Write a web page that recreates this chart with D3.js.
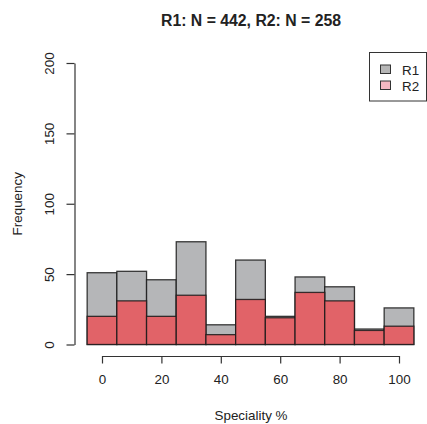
<!DOCTYPE html>
<html>
<head>
<meta charset="utf-8">
<title>Speciality histogram</title>
<script src="https://cdn.jsdelivr.net/npm/d3@7/dist/d3.min.js"></script>
<style>
body { margin: 0; background: #fff; }
text { font-family: "Liberation Sans", Arial, sans-serif; fill: #222; }
</style>
</head>
<body>
<script>

// bin edges (bins of width 10 centred on 0, 10, ..., 100)
var binStarts = [-5, 5, 15, 25, 35, 45, 55, 65, 75, 85, 95];
var binWidth = 10;

// counts
var r1Counts = [51, 52, 46, 73, 14, 60, 20, 48, 41, 11, 26];
var r2Counts = [20, 31, 20, 35, 7, 32, 19, 37, 31, 10, 13];

var xTicks = [0, 20, 40, 60, 80, 100];
var yTicks = [0, 50, 100, 150, 200];

var legendLabels = ["R1", "R2"];
var titleText = "R1: N = 442, R2: N = 258";

var width = 427, height = 424;

var svg = d3.select("body").append("svg")
    .attr("width", width)
    .attr("height", height);

var x = d3.scaleLinear().domain([0, 100]).range([102, 399]);
var y = d3.scaleLinear().domain([0, 200]).range([344.5, 63]);

var barFill = ["#b5b6b8", "#e16368"];
var legendFill = ["#b6b6b6", "#f5b7c1"];

var series = [r1Counts, r2Counts];

// bars, R1 first then R2 on top
series.forEach(function(counts, k){
  svg.append("g").selectAll("rect")
    .data(counts)
    .enter()
    .append("rect")
    .attr("x", function(d, i){ return x(binStarts[i]); })
    .attr("width", function(d, i){ return x(binStarts[i] + binWidth) - x(binStarts[i]); })
    .attr("y", function(d){ return y(d); })
    .attr("height", function(d){ return y(0) - y(d); })
    .attr("fill", barFill[k])
    .attr("stroke", "#1a1a1a")
    .attr("stroke-opacity", 0.85)
    .attr("stroke-width", 1.3);
});

// x axis
var xAxis = svg.append("g")
    .attr("transform", "translate(0,356)")
    .call(d3.axisBottom(x).tickValues(xTicks).tickSize(7.5).tickSizeOuter(0).tickPadding(11));
xAxis.select(".domain").attr("stroke", "#333").attr("stroke-width", 1.2);
xAxis.selectAll(".tick line").attr("stroke", "#333").attr("stroke-width", 1.2);
xAxis.selectAll(".tick text")
    .style("font-family", "Liberation Sans, Arial, sans-serif")
    .style("font-size", "13.4px")
    .attr("fill", "#222");

// y axis
var yAxis = svg.append("g")
    .attr("transform", "translate(74.5,0)")
    .call(d3.axisLeft(y).tickValues(yTicks).tickSize(8).tickSizeOuter(0));
yAxis.select(".domain").attr("stroke", "#333").attr("stroke-width", 1.2);
yAxis.selectAll(".tick line").attr("stroke", "#333").attr("stroke-width", 1.2);
yAxis.selectAll(".tick text")
    .style("font-family", "Liberation Sans, Arial, sans-serif")
    .style("font-size", "13.4px")
    .attr("fill", "#222")
    .attr("x", null)
    .attr("dy", null)
    .attr("text-anchor", "middle")
    .attr("dominant-baseline", "central")
    .attr("transform", "translate(-25.5,0) rotate(-90)");

// title and axis labels
svg.append("text")
    .attr("x", 251).attr("y", 26)
    .attr("text-anchor", "middle")
    .style("font-size", "15.8px")
    .style("font-weight", "bold")
    .text(titleText);

svg.append("text")
    .attr("x", 251).attr("y", 420)
    .attr("text-anchor", "middle")
    .style("font-size", "13.4px")
    .text("Speciality %");

svg.append("text")
    .attr("transform", "translate(21.5," + ((y(0) + y(200)) / 2) + ") rotate(-90)")
    .attr("text-anchor", "middle")
    .style("font-size", "13.4px")
    .text("Frequency");

// legend
var legend = svg.append("g");
legend.append("rect")
    .attr("x", 369.5).attr("y", 52.5)
    .attr("width", 57).attr("height", 48.5)
    .attr("fill", "#fff")
    .attr("stroke", "#333")
    .attr("stroke-width", 1);

legendLabels.forEach(function(lab, k){
  legend.append("rect")
    .attr("x", 380.5).attr("y", 65 + k * 16)
    .attr("width", 10).attr("height", 8.5)
    .attr("fill", legendFill[k])
    .attr("stroke", "#333")
    .attr("stroke-width", 1);
  legend.append("text")
    .attr("x", 402).attr("y", 74.5 + k * 16)
    .style("font-size", "13.4px")
    .text(lab);
});

</script>
</body>
</html>
